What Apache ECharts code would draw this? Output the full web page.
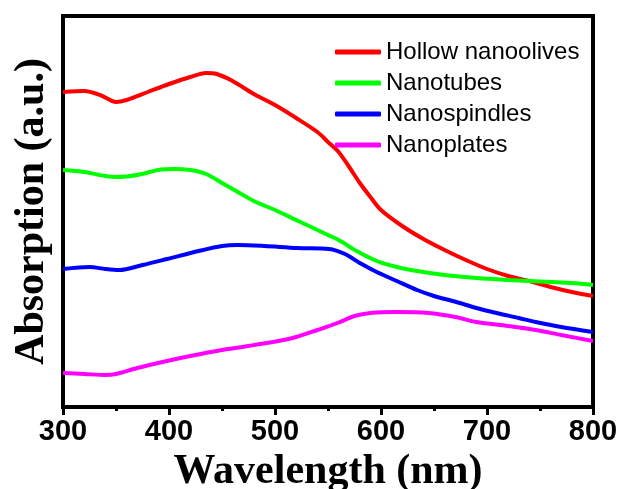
<!DOCTYPE html>
<html>
<head>
<meta charset="utf-8">
<script src="https://cdn.jsdelivr.net/npm/echarts@6/dist/echarts.min.js"></script>
<style>html,body{margin:0;padding:0;background:#fff}#c{width:619px;height:489px}</style>
</head>
<body>
<div id="c"></div>
<script>
const seriesNames = ['Hollow nanoolives', 'Nanotubes', 'Nanospindles', 'Nanoplates'];
const seriesColors = ['#ff0000', '#00ff00', '#0000ff', '#ff00ff'];
const xTicks = [300, 400, 500, 600, 700, 800];

const redX = [300,320,335,350,360,380,400,420,435,445,460,480,500,520,540,550,560,570,580,590,600,620,640,660,680,700,720,740,760,780,800];
const redY = [3.15,3.16,3.12,3.05,3.07,3.15,3.23,3.30,3.34,3.33,3.26,3.13,3.02,2.89,2.75,2.65,2.55,2.40,2.24,2.10,1.97,1.81,1.68,1.57,1.47,1.38,1.31,1.26,1.20,1.15,1.11];

const greenX = [300,320,340,350,370,390,405,420,435,450,465,480,500,520,540,550,560,577,596,615,634,660,690,720,740,760,780,800];
const greenY = [2.37,2.35,2.31,2.30,2.32,2.37,2.38,2.37,2.33,2.24,2.15,2.06,1.97,1.87,1.77,1.72,1.67,1.56,1.46,1.40,1.36,1.32,1.29,1.27,1.26,1.25,1.24,1.22];

const blueX = [300,325,340,353,375,398,428,450,465,490,521,551,566,580,596,615,634,650,671,690,709,730,746,770,800];
const blueY = [1.38,1.40,1.38,1.37,1.42,1.48,1.56,1.61,1.62,1.61,1.59,1.58,1.53,1.44,1.35,1.26,1.17,1.11,1.05,0.99,0.94,0.89,0.85,0.80,0.75];

const magX = [300,320,340,350,370,398,420,450,475,503,520,540,559,575,590,615,645,670,690,720,746,770,800];
const magY = [0.34,0.33,0.32,0.33,0.39,0.46,0.51,0.57,0.61,0.66,0.70,0.77,0.84,0.91,0.94,0.95,0.94,0.90,0.85,0.81,0.77,0.72,0.66];

const xs = [redX, greenX, blueX, magX];
const ys = [redY, greenY, blueY, magY];

const chart = echarts.init(document.getElementById('c'));
chart.setOption({
  animation: false,
  grid: {left: 63, right: 26, top: 16, bottom: 82, show: true, borderColor: '#000', borderWidth: 4,
    containLabel: false, outerBoundsMode: 'none'},
  legend: {
    orient: 'vertical', left: 335, top: 40, padding: 0, itemWidth: 46, itemHeight: 5, itemGap: 7,
    icon: 'roundRect',
    textStyle: {fontFamily: 'Liberation Sans, Arial, sans-serif', fontSize: 24, color: '#000'},
    data: seriesNames
  },
  xAxis: {
    type: 'value', min: 300, max: 800, interval: 100,
    axisLine: {show: true, lineStyle: {color: '#000', width: 4}},
    axisTick: {show: true, length: 8, lineStyle: {color: '#000', width: 3}},
    minorTick: {show: true, splitNumber: 2, length: 4, lineStyle: {color: '#000', width: 3}},
    splitLine: {show: false},
    axisLabel: {fontFamily: 'Liberation Sans, Arial, sans-serif', fontWeight: 'bold', fontSize: 29, color: '#000', margin: 10,
      formatter: v => xTicks.includes(v) ? String(v) : ''},
    name: 'Wavelength (nm)', nameLocation: 'middle', nameGap: 42,
    nameTextStyle: {fontFamily: 'Liberation Serif, Times New Roman, serif', fontWeight: 'bold', fontSize: 42, color: '#000'}
  },
  yAxis: {
    type: 'value', min: 0, max: 3.91,
    axisLine: {show: true, lineStyle: {color: '#000', width: 4}},
    axisTick: {show: false}, axisLabel: {show: false}, splitLine: {show: false},
    name: 'Absorption (a.u.)', nameLocation: 'middle', nameGap: 10,
    nameTextStyle: {fontFamily: 'Liberation Serif, Times New Roman, serif', fontWeight: 'bold', fontSize: 42, color: '#000'}
  },
  series: seriesNames.map((n, i) => ({
    name: n, type: 'line', showSymbol: false, smooth: 0.3,
    color: seriesColors[i],
    lineStyle: {width: 4, color: seriesColors[i]},
    data: xs[i].map((x, j) => [x, ys[i][j]])
  }))
});
</script>
</body>
</html>
